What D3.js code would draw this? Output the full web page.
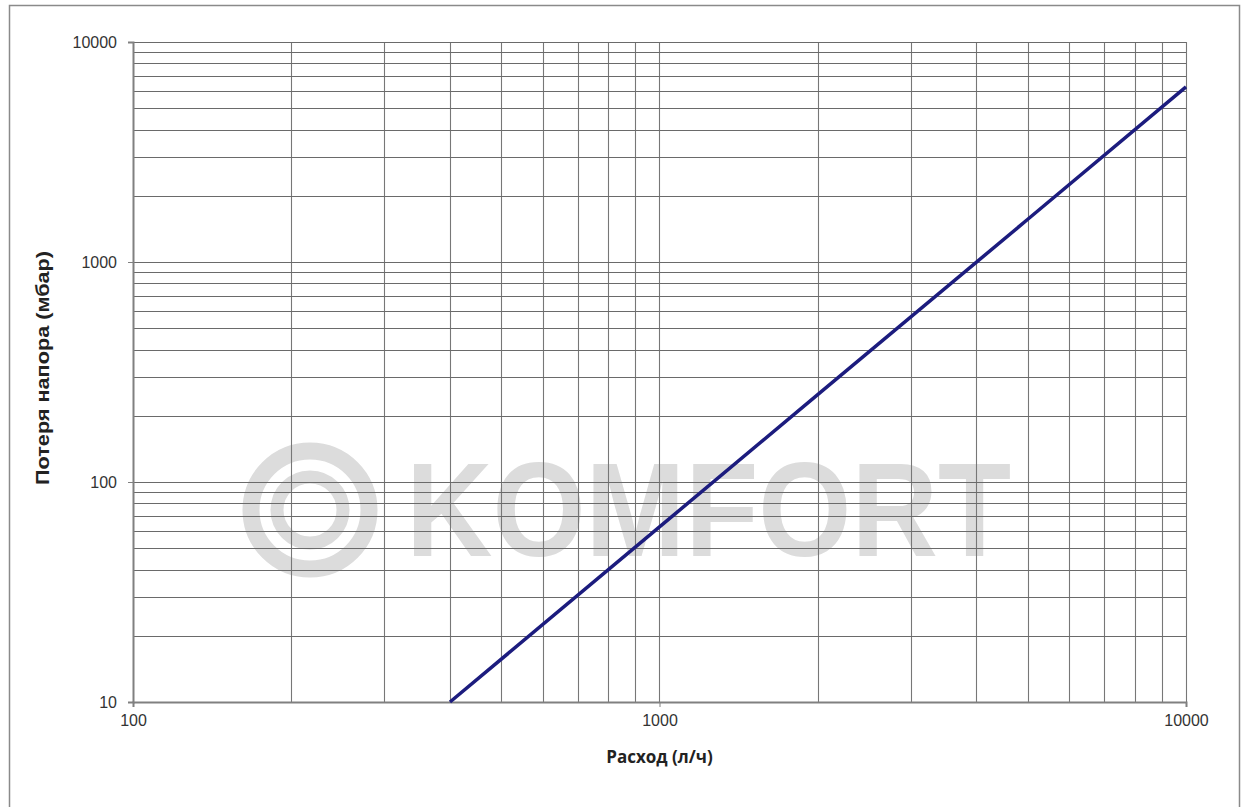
<!DOCTYPE html>
<html>
<head>
<meta charset="utf-8">
<script src="https://cdn.jsdelivr.net/npm/d3@7"></script>
<style>
  body { margin: 0; background: #fff; }
  svg { display: block; }
</style>
</head>
<body>
<div id="plot"></div>
<script>
// flow (l/h) vs pressure loss (mbar)
const flow = [400, 1000, 2000, 5000, 10000];
const loss = [10, 62.5, 250, 1560, 6250];

const xTicks = [100, 1000, 10000];
const yTicks = [10, 100, 1000, 10000];
const xTitle = "Расход (л/ч)";
const yTitle = "Потеря напора (мбар)";

const W = 1241, H = 807;
const margin = { top: 42, right: 55, bottom: 105, left: 133 };
const width = W - margin.left - margin.right;
const height = H - margin.top - margin.bottom;

const svg = d3.select("div#plot")
  .append("svg")
  .attr("width", W)
  .attr("height", H);

// outer frame
svg.append("rect")
  .attr("x", 9.5).attr("y", 5.5)
  .attr("width", 1230).attr("height", 820)
  .attr("fill", "none")
  .attr("stroke", "#8a8a8a")
  .attr("stroke-width", 1.5);

const g = svg.append("g")
  .attr("transform", `translate(${margin.left},${margin.top})`);

const x = d3.scaleLog().domain([100, 10000]).range([0, width]);
const y = d3.scaleLog().domain([10, 10000]).range([height, 0]);

// watermark
const wm = g.append("g").attr("fill", "none").attr("stroke", "#dcdcdc");
wm.append("circle")
  .attr("cx", 310 - margin.left).attr("cy", 510 - margin.top)
  .attr("r", 59).attr("stroke-width", 17);
wm.append("circle")
  .attr("cx", 310 - margin.left).attr("cy", 510 - margin.top)
  .attr("r", 33).attr("stroke-width", 13);
g.append("text")
  .attr("x", 406 - margin.left).attr("y", 556 - margin.top)
  .attr("font-family", "Liberation Sans, Arial, sans-serif")
  .attr("font-weight", "bold")
  .attr("font-size", 134)
  .attr("textLength", 605)
  .attr("lengthAdjust", "spacingAndGlyphs")
  .attr("fill", "#dcdcdc")
  .text("KOMFORT");

// grid
const xGrid = x.ticks().filter(d => d > 100);
const yGrid = y.ticks().filter(d => d > 10);

g.selectAll(".vgrid")
  .data(xGrid)
  .enter().append("line")
  .attr("class", "vgrid")
  .attr("x1", d => Math.round(x(d)) + 0.5)
  .attr("x2", d => Math.round(x(d)) + 0.5)
  .attr("y1", 0).attr("y2", height)
  .attr("stroke", "#777")
  .attr("stroke-width", 1.1);

g.selectAll(".hgrid")
  .data(yGrid)
  .enter().append("line")
  .attr("class", "hgrid")
  .attr("y1", d => Math.round(y(d)) + 0.5)
  .attr("y2", d => Math.round(y(d)) + 0.5)
  .attr("x1", 0).attr("x2", width)
  .attr("stroke", "#6a6a6a")
  .attr("stroke-width", 1.1);

// axes
const xAxis = g.append("g")
  .attr("transform", `translate(0,${height})`)
  .call(d3.axisBottom(x).tickValues(xTicks).tickFormat(d3.format("d")).tickSize(5).tickPadding(8));
const yAxis = g.append("g")
  .call(d3.axisLeft(y).tickValues(yTicks).tickFormat(d3.format("d")).tickSize(5).tickPadding(11));

[xAxis, yAxis].forEach(a => {
  a.select(".domain").attr("stroke", "#808080").attr("stroke-width", 2);
  a.selectAll(".tick line").attr("stroke", "#808080");
  a.selectAll("text")
    .attr("fill", "#333")
    .style("font-family", "Liberation Sans, Arial, sans-serif")
    .style("font-size", "16px");
});

// curve
const line = d3.line()
  .x(d => x(d[0]))
  .y(d => y(d[1]));

g.append("path")
  .datum(d3.zip(flow, loss))
  .attr("d", line)
  .attr("fill", "none")
  .attr("stroke", "#1c1c7e")
  .attr("stroke-width", 3.5);

// titles
g.append("text")
  .attr("x", width / 2)
  .attr("y", height + 61)
  .attr("text-anchor", "middle")
  .attr("font-family", "Open Sans, sans-serif")
  .attr("font-weight", "bold")
  .attr("font-size", 17)
  .attr("fill", "#222")
  .text(xTitle);

g.append("text")
  .attr("transform", "rotate(-90)")
  .attr("x", -(368 - margin.top))
  .attr("y", -84)
  .attr("text-anchor", "middle")
  .attr("font-family", "Liberation Sans, Arial, sans-serif")
  .attr("font-weight", "bold")
  .attr("font-size", 19)
  .attr("textLength", 234)
  .attr("lengthAdjust", "spacingAndGlyphs")
  .attr("fill", "#222")
  .text(yTitle);
</script>
</body>
</html>
